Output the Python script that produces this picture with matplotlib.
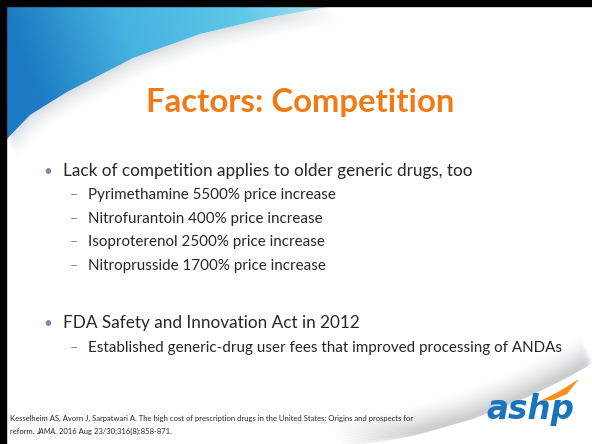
import numpy as np
import matplotlib
matplotlib.use("Agg")
import matplotlib.pyplot as plt
from matplotlib.path import Path
from matplotlib.patches import PathPatch, Polygon, Rectangle

# ---- content ----
title = "Factors: Competition"
bullet1 = "Lack of competition applies to older generic drugs, too"
drugs = ["Pyrimethamine", "Nitrofurantoin", "Isoproterenol", "Nitroprusside"]
increases = [5500, 400, 2500, 1700]
bullet2 = "FDA Safety and Innovation Act in 2012"
sub2 = "Established generic-drug user fees that improved processing of ANDAs"
ref_line1 = "Kesselheim AS, Avorn J, Sarpatwari A. The high cost of prescription drugs in the United States: Origins and prospects for"
ref_line2_parts = [("reform. ", "normal"), ("JAMA.", "italic"), (" 2016 Aug 23/30;316(8):858-871.", "normal")]
logo_text = "ashp"

FONT = "Lato"
TEXT_C = "#262626"
ORANGE = "#f07b16"
BLUE_LOGO = "#1b74bb"

W, H = 592, 444
fig = plt.figure(figsize=(W / 100, H / 100), dpi=100)
ax = fig.add_axes([0, 0, 1, 1])
ax.set_xlim(0, W)
ax.set_ylim(H, 0)
ax.axis("off")
ax.add_patch(Rectangle((0, 0), W, H, color="white", zorder=0))

# ---- top-left blue swoosh with gradient ----
curve = [(332, 6), (300, 12), (267, 18), (200, 34), (133, 58), (67, 92), (30, 115), (6, 140)]
verts = [(6, 6)] + curve + [(6, 6)]
clip = Path(verts)
for k, a in enumerate(np.linspace(0.10, 0.02, 8)):
    off = 2 + k * 2.2
    shadow = [(x + off * 0.6, y + off) for x, y in curve]
    ax.add_patch(Polygon([(6, 6)] + shadow + [(6, 6)], closed=True,
                         facecolor="#b0b8c0", edgecolor="none", alpha=a, zorder=1))
ax.add_patch(Polygon(verts, closed=True, facecolor="white", edgecolor="none", zorder=1.5))
gx = np.linspace(0, 1, 300)
gy = np.linspace(0, 1, 150)
GX, GY = np.meshgrid(gx, gy)
stops = np.array([0.0, 0.35, 0.75, 1.0])
cols = np.array([[0x1e, 0x7b, 0xc3], [0x45, 0xb2, 0xe0], [0x5e, 0xc8, 0xe8], [0xa5, 0xdf, 0xf1]]) / 255
t = np.clip(GX * 1.05 - GY * 0.15, 0, 1)
img = np.stack([np.interp(t, stops, cols[:, i]) for i in range(3)], axis=-1)
im = ax.imshow(img, extent=(6, 332, 140, 6), zorder=2, interpolation="bilinear")
pp = PathPatch(clip, transform=ax.transData, facecolor="none", edgecolor="none")
ax.add_patch(pp)
im.set_clip_path(pp)

# ---- bottom-right grey swoosh ----
bcurve_x = np.array([340, 410, 470, 525, 562, 592])
bcurve_y = np.array([444, 432, 415, 393, 375, 358])
for k, a in enumerate(np.linspace(0.11, 0.015, 10)):
    off = k * 2.5
    pts = list(zip(bcurve_x - off * 0.5, bcurve_y - off)) + [(592, 444)]
    ax.add_patch(Polygon(pts, closed=True, facecolor="#9aa0a6", edgecolor="none",
                         alpha=a, zorder=1))
ax.add_patch(Polygon(list(zip(bcurve_x + 3, bcurve_y + 4)) + [(592, 444)], closed=True,
                     facecolor="white", edgecolor="none", zorder=1.2))

# ---- black frame (top / left) ----
ax.add_patch(Rectangle((0, 0), W, 6, color="black", zorder=5))
ax.add_patch(Rectangle((0, 0), 6, H, color="black", zorder=5))

# ---- title ----
ax.text(300, 112, title, ha="center", va="baseline", fontsize=23.7,
        fontweight="bold", color=ORANGE, family=FONT, zorder=6)

# ---- body ----
SUB_FS = 10.9
ax.text(43, 176, "\u2022", ha="left", va="baseline", fontsize=11, color="#7f8ea8", family=FONT, zorder=6)
ax.text(63, 176, bullet1, ha="left", va="baseline", fontsize=12.3, color=TEXT_C, family=FONT, zorder=6)
sub_y = [199, 223, 246, 270]
for y, d, inc in zip(sub_y, drugs, increases):
    ax.text(70, y, "\u2013", ha="left", va="baseline", fontsize=10, color="#7f7f7f", family=FONT, zorder=6)
    ax.text(88, y, f"{d} {inc}% price increase", ha="left", va="baseline",
            fontsize=SUB_FS, color=TEXT_C, family=FONT, zorder=6)
ax.text(43, 328, "\u2022", ha="left", va="baseline", fontsize=11, color="#7f8ea8", family=FONT, zorder=6)
ax.text(63, 328, bullet2, ha="left", va="baseline", fontsize=12.3, color=TEXT_C, family=FONT, zorder=6)
ax.text(70, 352, "\u2013", ha="left", va="baseline", fontsize=10, color="#7f7f7f", family=FONT, zorder=6)
ax.text(88, 352, sub2, ha="left", va="baseline", fontsize=SUB_FS, color=TEXT_C, family=FONT, zorder=6)

# ---- reference footer ----
FOOT_FS = 5.5
ax.text(10, 421, ref_line1, ha="left", va="baseline", fontsize=FOOT_FS, color=TEXT_C, family=FONT, zorder=6)
fig.canvas.draw()
r = fig.canvas.get_renderer()
x = 10.0
inv = ax.transData.inverted()
for s, st in ref_line2_parts:
    tt = ax.text(x, 434, s, ha="left", va="baseline", fontsize=FOOT_FS, style=st,
                 color=TEXT_C, family=FONT, zorder=6)
    bb = tt.get_window_extent(renderer=r)
    x0 = inv.transform((bb.x0, 0))[0]
    x1 = inv.transform((bb.x1, 0))[0]
    x = x + (x1 - x0)

# ---- logo ----
ax.text(486, 419, logo_text, ha="left", va="baseline", fontsize=23.5, fontweight="heavy",
        style="italic", color=BLUE_LOGO, family="DejaVu Sans", zorder=6)
ax.add_patch(Polygon([(540, 401), (558, 392), (579, 379), (567, 394), (553, 400)], closed=True,
                     facecolor="#f5901e", edgecolor="none", zorder=6))

fig.savefig("out.png", dpi=100)
